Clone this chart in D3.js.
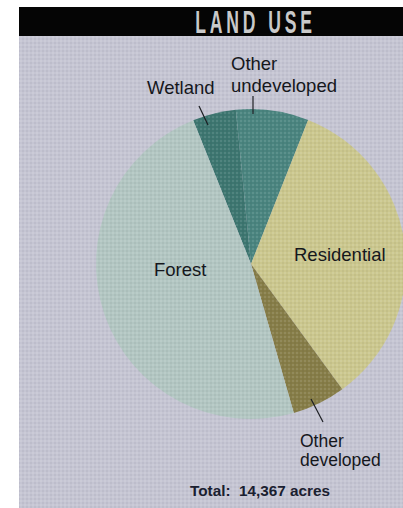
<!DOCTYPE html>
<html>
<head>
<meta charset="utf-8">
<script src="https://cdn.jsdelivr.net/npm/d3@7"></script>
<style>
  html, body { margin: 0; padding: 0; background: #ffffff; }
  svg { display: block; }
</style>
</head>
<body>
<svg id="chart" width="403" height="508"></svg>
<script>
// ---- data (acres; total 14,367) ----
const categories = ["Wetland", "Other undeveloped", "Residential", "Other developed", "Forest"];
const acres      = [650, 1087, 4880, 800, 6950];
const colors     = ["#3d7670", "#4a847f", "#cbc78e", "#867d48", "#b2c6c2"];
const title      = "LAND USE";
const totalLabel = "Total:  14,367 acres";

const svg = d3.select("#chart");
const W = 403, H = 508;

// panel background
svg.append("rect").attr("x", 19).attr("y", 7).attr("width", W - 19).attr("height", H - 7)
  .attr("fill", "#c5c5d3");

// subtle halftone texture
const defs = svg.append("defs");
const pat = defs.append("pattern").attr("id", "dots").attr("width", 4).attr("height", 4)
  .attr("patternUnits", "userSpaceOnUse");
pat.append("rect").attr("width", 2).attr("height", 2).attr("fill", "#ffffff").attr("opacity", 0.10);
pat.append("rect").attr("x", 2).attr("y", 2).attr("width", 2).attr("height", 2).attr("fill", "#000000").attr("opacity", 0.04);

// header bar
svg.append("rect").attr("x", 19).attr("y", 7).attr("width", W - 19).attr("height", 29).attr("fill", "#050505");
svg.append("text")
  .attr("transform", "translate(255.5,33) scale(0.55,1)")
  .attr("text-anchor", "middle")
  .attr("font-family", "Liberation Sans, Arial, sans-serif")
  .attr("font-weight", "bold")
  .attr("font-size", 32)
  .attr("letter-spacing", 7)
  .attr("fill", "#c9c9c9")
  .text(title);

// pie
const cx = 251, cy = 264, r = 155;
const startDeg = -21.9;
const pie = d3.pie().sort(null).value(d => d)
  .startAngle(startDeg * Math.PI / 180)
  .endAngle((startDeg + 360) * Math.PI / 180);
const arc = d3.arc().innerRadius(0).outerRadius(r);
const g = svg.append("g").attr("transform", `translate(${cx},${cy})`);
g.selectAll("path").data(pie(acres)).join("path")
  .attr("d", arc)
  .attr("fill", (d, i) => colors[i]);

// texture overlay on whole panel
svg.append("rect").attr("x", 19).attr("y", 36).attr("width", W - 19).attr("height", H - 36)
  .attr("fill", "url(#dots)");

// labels
const lab = svg.append("g")
  .attr("font-family", "Liberation Sans, Arial, sans-serif")
  .attr("fill", "#15171c");

function addLabel(lines, x, y, anchor, lh, size) {
  const t = lab.append("text").attr("x", x).attr("y", y).attr("text-anchor", anchor)
    .attr("font-size", size);
  lines.forEach((s, i) => t.append("tspan").attr("x", x).attr("dy", i === 0 ? 0 : lh).text(s));
}
addLabel(["Wetland"], 147, 94, "start", 0, 18.5);
addLabel(["Other", "undeveloped"], 231, 70, "start", 22, 18.5);
addLabel([categories[2]], 294, 261, "start", 0, 18.5);
addLabel(["Forest"], 154, 276, "start", 0, 18.5);
addLabel(["Other", "developed"], 300, 446.5, "start", 19.5, 17.5);

// leader lines
const leaders = [
  [[199, 106], [208, 125]],
  [[253, 96], [253, 114]],
  [[311, 399], [323, 422]]
];
svg.append("g").selectAll("path").data(leaders).join("path")
  .attr("d", d => d3.line()(d))
  .attr("stroke", "#1b1d22").attr("stroke-width", 1.2).attr("fill", "none");

// total
svg.append("text")
  .attr("x", 260).attr("y", 496)
  .attr("text-anchor", "middle")
  .attr("font-family", "Liberation Sans, Arial, sans-serif")
  .attr("font-weight", "bold")
  .attr("font-size", 15.3)
  .attr("fill", "#1a2030")
  .style("white-space", "pre")
  .text(totalLabel);
</script>
</body>
</html>
